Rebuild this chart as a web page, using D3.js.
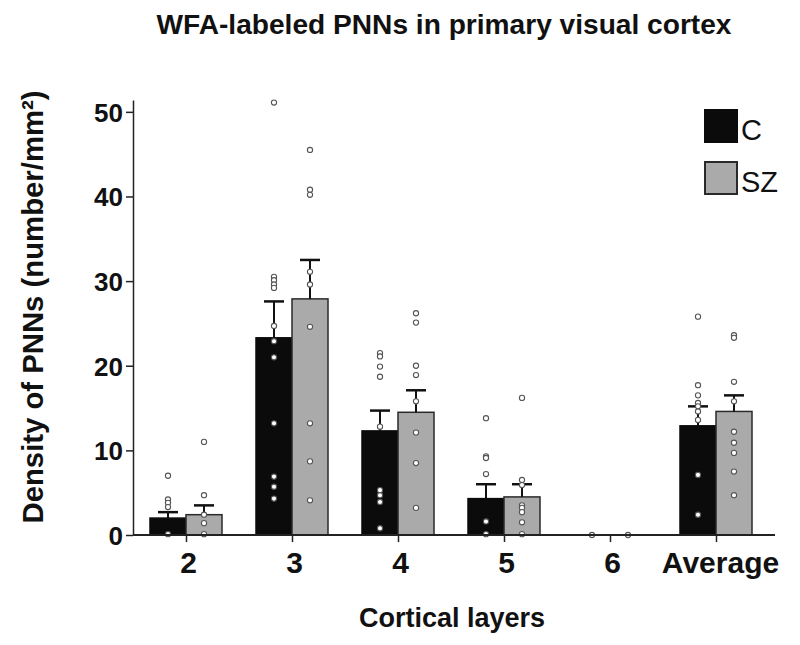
<!DOCTYPE html>
<html>
<head>
<meta charset="utf-8">
<script src="https://cdn.jsdelivr.net/npm/d3@7"></script>
<style>
  body { margin: 0; background: #fff; }
  svg { display: block; }
  text { font-family: "Liberation Sans", Arial, sans-serif; fill: #111; }
</style>
</head>
<body>
<svg id="chart" width="800" height="645"></svg>
<script>
// ---- data ----
const categories = ["2", "3", "4", "5", "6", "Average"];
const seriesNames = ["C", "SZ"];
const meanC  = [2.0, 23.3, 12.3, 4.3, 0, 12.9];
const meanSZ = [2.4, 27.9, 14.5, 4.5, 0, 14.6];
const semC   = [0.7, 4.3, 2.4, 1.7, 0, 2.3];
const semSZ  = [1.1, 4.6, 2.6, 1.5, 0, 1.9];
const pointsC = [
  [7.0, 4.2, 3.8, 3.3, 0.1],
  [51.1, 30.5, 30.1, 29.6, 29.2, 24.7, 22.9, 21.0, 13.2, 6.9, 5.7, 4.3],
  [21.5, 21.1, 19.9, 18.7, 12.8, 5.3, 4.7, 3.9, 0.8],
  [13.8, 9.3, 9.1, 7.2, 1.6, 0.1],
  [0],
  [25.8, 17.7, 16.5, 15.6, 15.2, 14.6, 13.6, 7.1, 2.4]
];
const pointsSZ = [
  [11.0, 4.7, 2.4, 1.4, 0.1],
  [45.5, 40.8, 40.2, 31.1, 29.6, 24.6, 13.2, 8.7, 4.1],
  [26.2, 25.1, 20.0, 18.9, 15.8, 12.1, 8.5, 3.2],
  [16.2, 6.5, 5.9, 3.5, 3.2, 2.7, 1.5, 0.1],
  [0],
  [23.6, 23.3, 18.1, 15.8, 12.2, 10.9, 9.7, 7.5, 4.7]
];
const yTicks = [0, 10, 20, 30, 40, 50];
const titleText = "WFA-labeled PNNs in primary visual cortex";
const xLabelText = "Cortical layers";
const yLabelText = "Density of PNNs (number/mm²)";

// ---- layout ----
const svg = d3.select("#chart");
const FONT = '"Liberation Sans", Arial, sans-serif';
const colors = { C: "#0b0b0b", SZ: "#aaaaaa" };

const x = d3.scalePoint().domain(categories).range([186, 716]);
const xs = d3.scaleBand().domain(seriesNames).range([-36, 36]);
const y = d3.scaleLinear().domain([0, 51.4]).range([535, 100]);

const table = categories.map((c, i) => ({
  cat: c,
  vals: [
    { s: "C", mean: meanC[i], sem: semC[i], pts: pointsC[i] },
    { s: "SZ", mean: meanSZ[i], sem: semSZ[i], pts: pointsSZ[i] }
  ]
}));

// bars
const groups = svg.append("g").selectAll("g").data(table).join("g")
  .attr("transform", d => `translate(${x(d.cat)},0)`);

groups.selectAll("rect").data(d => d.vals).join("rect")
  .attr("x", d => xs(d.s))
  .attr("width", xs.bandwidth())
  .attr("y", d => y(d.mean))
  .attr("height", d => y(0) - y(d.mean))
  .attr("fill", d => colors[d.s])
  .attr("stroke", d => d.s === "SZ" ? "#2a2a2a" : "#0b0b0b")
  .attr("stroke-width", 1.5);

// error bars
groups.selectAll("g.err").data(d => d.vals.filter(v => v.sem > 0)).join("g")
  .attr("class", "err")
  .each(function(d) {
    const g = d3.select(this);
    const cx = xs(d.s) + xs.bandwidth() / 2;
    g.append("line")
      .attr("x1", cx).attr("x2", cx)
      .attr("y1", y(d.mean)).attr("y2", y(d.mean + d.sem))
      .attr("stroke", "#111").attr("stroke-width", 2);
    g.append("line")
      .attr("x1", cx - 10).attr("x2", cx + 10)
      .attr("y1", y(d.mean + d.sem)).attr("y2", y(d.mean + d.sem))
      .attr("stroke", "#111").attr("stroke-width", 2.5);
  });

// axes
const yAxis = svg.append("g")
  .attr("transform", "translate(133,0)")
  .call(d3.axisLeft(y).tickValues(yTicks).tickSize(7).tickSizeOuter(0).tickPadding(3));
yAxis.select(".domain").attr("stroke", "#222").attr("stroke-width", 1.5);
yAxis.selectAll(".tick line").attr("stroke", "#222").attr("stroke-width", 1.5);
yAxis.selectAll(".tick text")
  .attr("font-family", FONT).attr("font-size", 26).attr("font-weight", "bold")
  .attr("fill", "#111").attr("dy", "0.36em");

// x axis line
svg.append("line")
  .attr("x1", 133).attr("x2", 775)
  .attr("y1", y(0)).attr("y2", y(0))
  .attr("stroke", "#222").attr("stroke-width", 2);

const xAxis = svg.append("g")
  .attr("transform", `translate(0,${y(0)})`)
  .call(d3.axisBottom(x).tickSize(7).tickSizeOuter(0).tickPadding(10));
xAxis.select(".domain").remove();
xAxis.selectAll(".tick line").attr("stroke", "#222").attr("stroke-width", 1.5);
xAxis.selectAll(".tick text")
  .attr("font-family", FONT).attr("font-size", 30).attr("font-weight", "bold")
  .attr("fill", "#111").attr("dy", "0.71em")
  .attr("dx", d => d === "Average" ? 4 : 2);

// data points
groups.each(function(d) {
  const g = d3.select(this);
  d.vals.forEach(v => {
    const cx = xs(v.s) + xs.bandwidth() / 2;
    g.selectAll(null).data(v.pts).join("circle")
      .attr("cx", cx)
      .attr("cy", p => y(p))
      .attr("r", 2.6)
      .attr("fill", "#fff")
      .attr("stroke", "#555")
      .attr("stroke-width", 1.1);
  });
});

// title
svg.append("text")
  .attr("x", 444).attr("y", 34)
  .attr("text-anchor", "middle")
  .attr("font-size", 27).attr("font-weight", "bold")
  .attr("textLength", 575).attr("lengthAdjust", "spacingAndGlyphs")
  .text(titleText);

// x label
svg.append("text")
  .attr("x", 452).attr("y", 627)
  .attr("text-anchor", "middle")
  .attr("font-size", 27).attr("font-weight", "bold")
  .text(xLabelText);

// y label
svg.append("text")
  .attr("transform", "translate(43,307) rotate(-90)")
  .attr("text-anchor", "middle")
  .attr("font-size", 30).attr("font-weight", "bold")
  .attr("textLength", 433).attr("lengthAdjust", "spacingAndGlyphs")
  .text(yLabelText);

// legend
const legend = svg.append("g").attr("transform", "translate(705,110)");
seriesNames.forEach((s, i) => {
  legend.append("rect")
    .attr("x", 0).attr("y", i * 52)
    .attr("width", 32).attr("height", 32)
    .attr("fill", colors[s])
    .attr("stroke", s === "SZ" ? "#2a2a2a" : "#0b0b0b")
    .attr("stroke-width", 2);
  legend.append("text")
    .attr("x", 36).attr("y", i * 52 + 30)
    .attr("font-size", 29)
    .text(s);
});
</script>
</body>
</html>
